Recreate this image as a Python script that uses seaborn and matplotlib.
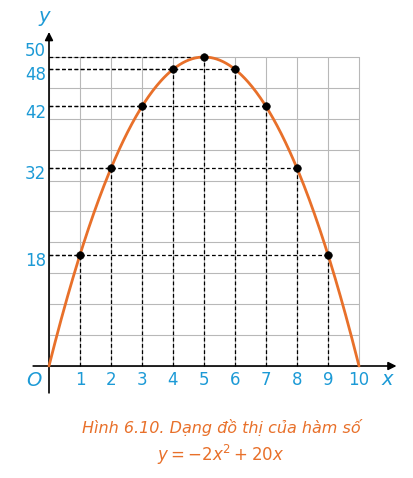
import numpy as np
import matplotlib
matplotlib.use("Agg")
import matplotlib.pyplot as plt
import seaborn as sns

xs = [0, 1, 2, 3, 4, 5, 6, 7, 8, 9, 10]
ys = [0, 18, 32, 42, 48, 50, 48, 42, 32, 18, 0]
ytick_vals = [18, 32, 42, 48, 50]
xtick_vals = [1, 2, 3, 4, 5, 6, 7, 8, 9, 10]

sns.set_style("white")
fig = plt.figure(figsize=(4.13, 4.78), dpi=100)
ax = fig.add_axes([0, 0, 1, 1])
ax.set_axis_off()
px = 31.0
py = 6.18
ax.set_xlim(-49 / px, (413 - 49) / px)
ax.set_ylim(-(478 - 366) / py, 366 / py)

blue = "#1c9ad6"
orange = "#e8702a"
grid = "#b8b8b8"
for gx in range(0, 11):
    ax.plot([gx, gx], [0, 50], color=grid, lw=0.8, zorder=1)
for gy in range(0, 55, 5):
    ax.plot([0, 10], [gy, gy], color=grid, lw=0.8, zorder=1)

ax.annotate("", xy=(11.3, 0), xytext=(-0.6, 0),
            arrowprops=dict(arrowstyle="-|>", color="black", lw=1.2, mutation_scale=12))
ax.annotate("", xy=(0, 54.5), xytext=(0, -4.8),
            arrowprops=dict(arrowstyle="-|>", color="black", lw=1.2, mutation_scale=12))

for x, y in zip(xs, ys):
    if y > 0:
        ax.plot([x, x], [0, y], color="black", ls=(0, (3, 2)), lw=0.9, zorder=2)
        ax.plot([0, x], [y, y], color="black", ls=(0, (3, 2)), lw=0.9, zorder=2)

coef = np.polyfit(xs, ys, 2)
xx = np.linspace(min(xs), max(xs), 300)
sns.lineplot(x=xx, y=np.polyval(coef, xx), ax=ax, color=orange, lw=2, zorder=3)
sns.scatterplot(x=xs[1:-1], y=ys[1:-1], ax=ax, color="black", s=30, zorder=4, edgecolor="black")

for t in xtick_vals:
    ax.text(t, -2.3, str(t), color=blue, fontsize=12, ha="center", va="center")
for t in ytick_vals:
    off = {50: 0.9, 48: -0.9}.get(t, -1.0)
    ax.text(-0.1, t + off, str(t), color=blue, fontsize=12, ha="right", va="center")
ax.text(-0.5, -2.3, "O", color=blue, fontsize=14, style="italic", ha="center", va="center")
ax.text(10.9, -2.2, "x", color=blue, fontsize=14, style="italic", ha="center", va="center")
ax.text(-0.15, 56.5, "y", color=blue, fontsize=14, style="italic", ha="center", va="center")

fig.text(0.535, 1 - 427 / 478, "Hình 6.10. Dạng đồ thị của hàm số", color=orange,
         fontsize=11.5, style="italic", ha="center", va="center")
fig.text(0.535, 1 - 455 / 478, r"$y = -2x^2 + 20x$", color=orange,
         fontsize=12, ha="center", va="center")

fig.savefig("out.png", dpi=100)
